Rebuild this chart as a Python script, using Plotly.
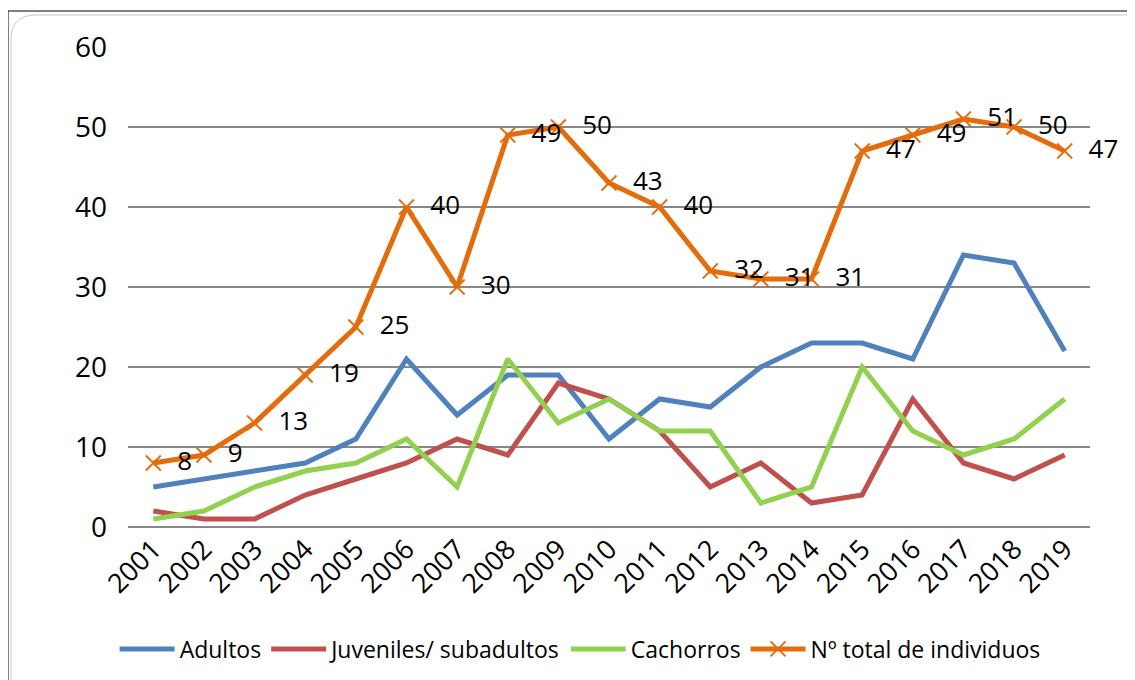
import plotly.graph_objects as go

years = [str(y) for y in range(2001, 2020)]
adultos = [5, 6, 7, 8, 11, 21, 14, 19, 19, 11, 16, 15, 20, 23, 23, 21, 34, 33, 22]
juveniles = [2, 1, 1, 4, 6, 8, 11, 9, 18, 16, 12, 5, 8, 3, 4, 16, 8, 6, 9]
cachorros = [1, 2, 5, 7, 8, 11, 5, 21, 13, 16, 12, 12, 3, 5, 20, 12, 9, 11, 16]
total = [8, 9, 13, 19, 25, 40, 30, 49, 50, 43, 40, 32, 31, 31, 47, 49, 51, 50, 47]

font_family = 'Open Sans, Noto Sans, sans-serif'

W, H = 1135, 680
L, R, T, B = 120, 53, 39, 161
pw, ph = W - L - R, H - T - B


def px(x):
    return (x - L) / pw


def py(y):
    return 1 - (y - T) / ph


fig = go.Figure()
fig.add_trace(go.Scatter(x=years, y=adultos, name='Adultos', mode='lines',
                         line={'color': '#4F81BD', 'width': 5}))
fig.add_trace(go.Scatter(x=years, y=juveniles, name='Juveniles/ subadultos', mode='lines',
                         line={'color': '#C0504D', 'width': 5}))
fig.add_trace(go.Scatter(x=years, y=cachorros, name='Cachorros', mode='lines',
                         line={'color': '#92D050', 'width': 5}))
fig.add_trace(go.Scatter(x=years, y=total, name='Nº total de individuos',
                         mode='lines+markers+text',
                         line={'color': '#E46C0A', 'width': 5},
                         marker={'symbol': 'x-thin', 'size': 15,
                                 'line': {'color': '#E46C0A', 'width': 1.8}},
                         text=[str(v) for v in total],
                         texttemplate='  %{text}',
                         textposition='middle right',
                         textfont={'size': 26, 'color': 'black', 'family': font_family},
                         cliponaxis=False))

fig.update_layout(
    width=W, height=H,
    margin={'l': L, 'r': R, 't': T, 'b': B},
    plot_bgcolor='white', paper_bgcolor='white',
    font={'family': font_family, 'size': 24, 'color': 'black'},
    showlegend=True,
    legend={'orientation': 'h', 'x': 0.47, 'xanchor': 'center',
            'y': py(641), 'yanchor': 'middle', 'yref': 'paper',
            'font': {'size': 23}, 'traceorder': 'normal', 'itemwidth': 55},
    xaxis={'type': 'category', 'tickangle': -45, 'showgrid': False,
           'showline': False, 'ticks': '', 'range': [-0.5, 18.5],
           'tickfont': {'size': 27}},
    yaxis={'range': [0, 60], 'dtick': 10, 'showgrid': True,
           'gridcolor': '#888888', 'gridwidth': 1.5, 'zeroline': True,
           'zerolinecolor': '#888888', 'zerolinewidth': 1.5,
           'tickfont': {'size': 28}, 'ticklabelstandoff': 20},
)

# outer frame: black top/left edge, light grey rounded border
fig.add_shape(type='line', xref='paper', yref='paper', x0=px(0), x1=px(W), y0=py(3), y1=py(3),
              line={'color': 'black', 'width': 1})
fig.add_shape(type='line', xref='paper', yref='paper', x0=px(0), x1=px(0), y0=py(3), y1=py(H),
              line={'color': 'black', 'width': 1})
r = 25
fig.add_shape(type='path', xref='paper', yref='paper',
              path=(f'M {px(3)},{py(H)} L {px(3)},{py(7 + r)} '
                    f'Q {px(3)},{py(7)} {px(3 + r)},{py(7)} L {px(W)},{py(7)}'),
              line={'color': '#C8C8C8', 'width': 1})

fig.write_html('out.html')
